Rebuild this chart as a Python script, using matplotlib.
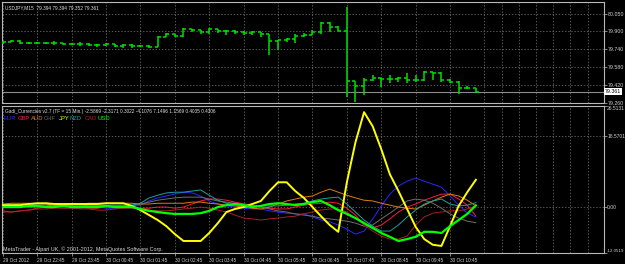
import numpy as np
import matplotlib
matplotlib.use("Agg")
import matplotlib.pyplot as plt

# USDJPY M15 bars, 29 Oct 21:45 .. 30 Oct 11:30
opens = [79.793, 79.802, 79.811, 79.793, 79.793, 79.793, 79.793, 79.793, 79.784, 79.784,
         79.784, 79.776, 79.776, 79.784, 79.767, 79.776, 79.767, 79.767, 79.758, 79.847,
         79.873, 79.856, 79.918, 79.909, 79.891, 79.918, 79.900, 79.900, 79.891, 79.882,
         79.891, 79.873, 79.811, 79.820, 79.829, 79.856, 79.864, 79.891, 79.971, 79.936,
         79.900, 79.456, 79.411, 79.464, 79.482, 79.473, 79.473, 79.482, 79.464, 79.464,
         79.536, 79.527, 79.464, 79.447, 79.393, 79.394]
highs = [79.811, 79.820, 79.820, 79.802, 79.802, 79.802, 79.811, 79.793, 79.793, 79.802,
         79.793, 79.784, 79.793, 79.784, 79.784, 79.784, 79.776, 79.776, 79.856, 79.882,
         79.873, 79.927, 79.918, 79.909, 79.927, 79.918, 79.909, 79.909, 79.900, 79.900,
         79.891, 79.873, 79.820, 79.838, 79.873, 79.882, 79.909, 79.980, 79.980, 79.945,
         80.113, 79.456, 79.482, 79.509, 79.482, 79.509, 79.491, 79.527, 79.509, 79.544,
         79.536, 79.536, 79.473, 79.456, 79.411, 79.394]
lows = [79.784, 79.802, 79.784, 79.784, 79.784, 79.784, 79.776, 79.776, 79.776, 79.767,
        79.767, 79.758, 79.767, 79.758, 79.749, 79.749, 79.758, 79.749, 79.758, 79.847,
        79.847, 79.847, 79.891, 79.873, 79.873, 79.882, 79.864, 79.873, 79.864, 79.864,
        79.847, 79.687, 79.731, 79.802, 79.793, 79.847, 79.864, 79.873, 79.891, 79.900,
        79.313, 79.269, 79.331, 79.456, 79.402, 79.438, 79.447, 79.438, 79.447, 79.456,
        79.464, 79.447, 79.438, 79.340, 79.384, 79.352]
closes = [79.802, 79.811, 79.793, 79.793, 79.793, 79.793, 79.793, 79.784, 79.784, 79.784,
          79.776, 79.776, 79.784, 79.767, 79.776, 79.767, 79.767, 79.758, 79.847, 79.873,
          79.856, 79.918, 79.909, 79.891, 79.918, 79.900, 79.900, 79.891, 79.882, 79.891,
          79.873, 79.811, 79.820, 79.829, 79.856, 79.864, 79.891, 79.971, 79.936, 79.900,
          79.456, 79.411, 79.464, 79.482, 79.473, 79.473, 79.482, 79.464, 79.464, 79.536,
          79.527, 79.464, 79.447, 79.393, 79.394, 79.361]

# Gadi_Currencies strength lines
eur = [0.5, 0.5, 0.3, 0.3, 0.3, 0.0, 0.0, -0.3, -0.3, -0.3, 0.0, 0.0, -0.3, -0.3, 0.0, 0.0,
       0.5, 1.6, 2.4, 2.9, 3.4, 3.9, 3.7, 2.9, 1.6, 0.8, 0.3, 0.0, -0.3, -0.5, -0.5, -1.0,
       -1.3, -1.6, -1.8, -1.8, -2.6, -3.4, -3.9, -4.7, -5.8, -7.1, -6.3, -3.1, 0.3, 3.4,
       5.5, 6.8, 7.6, 6.8, 6.0, 5.2, 2.9, 0.5, -1.6, -2.5869]
gbp = [-1.0, -1.3, -1.0, -0.8, -0.3, 0.0, 0.3, 0.3, 0.3, 0.0, -0.3, -0.3, 0.0, 0.0, 0.0, 0.0,
       -0.3, -0.3, 0.0, 0.0, -0.3, 0.0, 0.8, 1.6, 2.1, 2.1, 1.8, 1.3, 0.8, 0.5, 0.0, -0.3,
       -0.5, -0.5, 0.0, 0.5, 0.8, 1.0, 1.3, 1.0, -0.3, -2.1, -4.7, -5.5, -4.7, -3.1,
       -1.3, 0.0, 0.8, 1.8, 2.6, 3.4, 3.4, 2.1, 0.5, -2.3171]
aud = [0.8, 1.0, 1.0, 1.0, 0.8, 0.8, 0.5, 0.5, 0.8, 0.8, 1.0, 1.0, 1.0, 1.0, 1.0, 1.0,
       0.8, 0.8, 1.0, 1.0, 1.0, 1.0, 1.3, 1.3, 1.0, 0.8, 0.5, 0.3, 0.0, -0.3, -0.5, 0.0,
       0.8, 1.6, 2.1, 2.6, 2.9, 3.9, 4.7, 3.9, 3.1, 2.4, 1.8, 1.6, 1.0, 0.5,
       0.0, -0.3, -0.5, 0.5, 1.6, 2.6, 3.4, 2.9, 1.8, 0.3022]
chf = [0.3, 0.3, 0.3, 0.0, 0.0, 0.0, 0.0, 0.3, 0.3, 0.3, 0.3, 0.3, 0.3, 0.3, 0.3, 0.3,
       0.8, 1.3, 1.8, 2.1, 2.4, 2.6, 2.6, 2.6, 2.1, 1.6, 1.3, 1.0, 0.8, 0.5, 0.0, -0.5,
       -1.0, -1.3, -1.8, -2.1, -2.4, -2.9, -3.1, -3.4, -3.7, -4.2, -5.0, -4.7, -3.1, -1.6,
       0.0, 1.6, 2.1, 1.8, 1.0, -0.3, -1.8, -2.9, -3.7, -4.1076]
jpy = [0.5, 0.5, 0.5, 0.8, 1.0, 1.0, 0.8, 0.8, 0.8, 0.8, 0.8, 0.8, 1.0, 1.0, 1.0, 0.3,
       -0.8, -2.1, -3.4, -5.0, -7.1, -8.9, -8.9, -8.9, -6.8, -4.2, -1.3, -0.5, 0.0, 0.8, 1.6, 4.2,
       6.5, 6.5, 4.2, 2.4, 0.0, -2.4, -4.7, -6.5, 6.5, 17.0, 24.9, 21.2, 15.2, 8.6,
       4.2, -0.5, -5.2, -8.4, -9.9, -10.2, -5.0, 0.3, 3.9, 7.1496]
nzd = [0.5, 0.5, 0.8, 0.8, 0.5, 0.5, 0.3, 0.3, 0.3, 0.3, 0.5, 0.5, 0.5, 0.5, 0.5, 0.5,
       1.0, 2.4, 3.1, 3.7, 3.9, 3.9, 4.2, 4.5, 3.1, 1.8, 1.0, 0.5, 0.3, 0.3, 0.3, 0.3,
       0.3, 0.5, 0.8, 1.0, 1.6, 2.1, 2.4, 2.6, 0.8, -1.3, -3.4, -5.0, -6.3, -6.3,
       -4.7, -2.6, -0.8, 0.8, 1.6, 2.1, 0.8, 0.3, 0.5, 1.1569]
cad = [-1.3, -1.3, -1.0, -0.8, -0.5, -0.5, -0.3, -0.3, -0.3, -0.5, -0.5, -0.8, -0.8, -0.5, -0.3, -0.3,
       -0.5, -0.8, -1.0, -1.0, -0.8, -0.5, -0.3, 0.0, -0.3, -0.8, -1.3, -2.1, -2.9, -3.1, -3.4, -3.1,
       -2.9, -2.6, -2.4, -1.8, -1.3, -0.8, -0.5, -0.5, -1.3, -2.9, -4.7, -6.3, -7.6, -8.4,
       -8.4, -7.6, -4.7, -2.6, -1.6, -1.3, -1.0, -1.0, -0.5, 0.4035]
usd = [0.0, 0.0, 0.0, 0.3, 0.3, 0.0, 0.0, 0.3, 0.0, 0.0, 0.0, 0.0, 0.3, 0.0, 0.0, 0.0,
       -0.5, -1.0, -1.3, -1.6, -1.8, -1.8, -1.8, -1.6, -1.0, 0.0, 0.5, 0.8, 0.5, 0.0, 0.3, 0.8,
       1.0, 0.8, 0.5, 0.8, 1.3, 1.6, 0.5, -0.8, -1.8, -2.9, -4.2, -5.5, -6.8, -7.8,
       -8.9, -8.4, -7.8, -6.5, -6.5, -6.8, -5.0, -3.4, -1.8, 0.4306]

names = ["EUR", "GBP", "AUD", "CHF", "JPY", "NZD", "CAD", "USD"]
colors = ["#2828ff", "#ff1a3c", "#e07a10", "#6e6e6e", "#ffff00", "#1ea0a0", "#a82020", "#00ff00"]
series = [eur, gbp, aud, chf, jpy, nzd, cad, usd]
widths = [0.7, 0.7, 0.7, 0.7, 1.4, 0.7, 0.7, 1.6]

time_labels = ["29 Oct 2012", "29 Oct 22:45", "29 Oct 23:45", "30 Oct 00:45", "30 Oct 01:45",
               "30 Oct 02:45", "30 Oct 03:45", "30 Oct 04:45", "30 Oct 05:45", "30 Oct 06:45",
               "30 Oct 07:45", "30 Oct 08:45", "30 Oct 09:45", "30 Oct 10:45"]
price_ticks = [80.050, 79.900, 79.740, 79.580, 79.420, 79.260]
ind_ticks = [26.5131, 18.5701, 0.0, -12.0519]
ind_tick_labels = ["26.5131", "18.5701", "0.00", "-12.0519"]

plt.rcParams['font.family'] = ['Liberation Sans', 'DejaVu Sans']
narrow = ['Liberation Sans Narrow', 'Liberation Sans', 'DejaVu Sans']
FS = 3.8
W, H = 625, 264
fig = plt.figure(figsize=(W / 100, H / 100), dpi=100, facecolor="black")

def box(x0, y0, x1, y1):
    return [x0 / W, 1 - y1 / H, (x1 - x0) / W, (y1 - y0) / H]

ax1 = fig.add_axes(box(2, 2, 604, 103))
ax2 = fig.add_axes(box(2, 106, 604, 253))

x = np.arange(len(closes))
xlim = (-0.1, 69.9)
grid_x = list(range(0, 56, 4)) + list(range(56, 70, 2))

for ax in (ax1, ax2):
    ax.set_facecolor("black")
    ax.set_xlim(*xlim)
    for s in ax.spines.values():
        s.set_color("#b8b8b8")
        s.set_linewidth(0.8)
    for gx in grid_x:
        ax.axvline(gx, color="#7a7a7a", lw=0.5, ls=(0, (2, 2.5)), zorder=0)
    ax.yaxis.tick_right()
    ax.tick_params(axis="y", colors="#b8b8b8", length=2, width=0.5, pad=0.6, labelsize=FS,
                   labelcolor="#d0d0d0")

# price panel
ax1.set_ylim(79.26, 80.158)
for p in price_ticks[:-1]:
    ax1.axhline(p, color="#7a7a7a", lw=0.5, ls=(0, (2, 2.5)), zorder=0)
ax1.axhline(closes[-1], color="#8c8c8c", lw=0.8, zorder=1)
bar_col = "#00e000"
ax1.vlines(x, lows, highs, color=bar_col, lw=1.1, zorder=3)
ax1.hlines(opens, x - 0.35, x, color=bar_col, lw=1.1, zorder=3)
ax1.hlines(closes, x, x + 0.35, color=bar_col, lw=1.1, zorder=3)
ax1.set_yticks(price_ticks)
ax1.set_yticklabels(["%.3f" % p for p in price_ticks])
ax1.set_xticks([])
ax1.text(1.002, closes[-1], "%.3f" % closes[-1], transform=ax1.get_yaxis_transform(),
         fontsize=FS, color="black", va="center", ha="left",
         bbox=dict(boxstyle="square,pad=0.15", fc="white", ec="none"))
ax1.text(0.005, 0.965, "USDJPY,M15  %.3f %.3f %.3f %.3f" % (opens[-1], highs[-1], lows[-1], closes[-1]),
         transform=ax1.transAxes, fontsize=3.4, color="#e0e0e0", va="top", ha="left")

# indicator panel
ax2.set_ylim(-12.0519, 26.5131)
for v in ind_ticks[1:3]:
    ax2.axhline(v, color="#7a7a7a", lw=0.5, ls=(0, (2, 2.5)), zorder=0)
for s, c, w in zip(series, colors, widths):
    ax2.plot(x, s, color=c, lw=w, zorder=3 if w > 1 else 2)
ax2.set_yticks(ind_ticks)
ax2.set_yticklabels(ind_tick_labels)
ax2.tick_params(axis="y", pad=0.3)
ylabs = ax2.get_yticklabels()
for lab in ylabs:
    lab.set_fontfamily(narrow)
    lab.set_fontsize(3.6)
ylabs[0].set_va("top")
ylabs[-1].set_va("bottom")
ylabs[-1].set_fontsize(3.2)
ax2.set_xticks(np.arange(0, 4 * len(time_labels), 4))
ax2.set_xticklabels(time_labels, ha="left")
ax2.tick_params(axis="x", colors="#b8b8b8", length=2, width=0.5, pad=1.5, labelsize=3.4,
                labelcolor="#d0d0d0")

head = "Gadi_Currencies v2.7 (TF = 15 Min.) " + " ".join("%.4f" % s[-1] for s in series)
fig.text(5 / W, 1 - 111 / H, head, fontsize=3.4, color="#e0e0e0", va="center", ha="left")
leg_x = [4, 18, 31, 44, 59, 70, 85, 97]
for lx, n, c in zip(leg_x, names, colors):
    fig.text(lx / W, 1 - 118.5 / H, n, fontsize=4.2, color=c, va="center", ha="left")
fig.text(3 / W, 1 - 249 / H, "MetaTrader - Alpari UK, \u00a9 2001-2012, MetaQuotes Software Corp.",
         fontsize=3.9, color="#d8d8d8", va="center", ha="left")

fig.savefig("out.png", dpi=100, facecolor="black")
